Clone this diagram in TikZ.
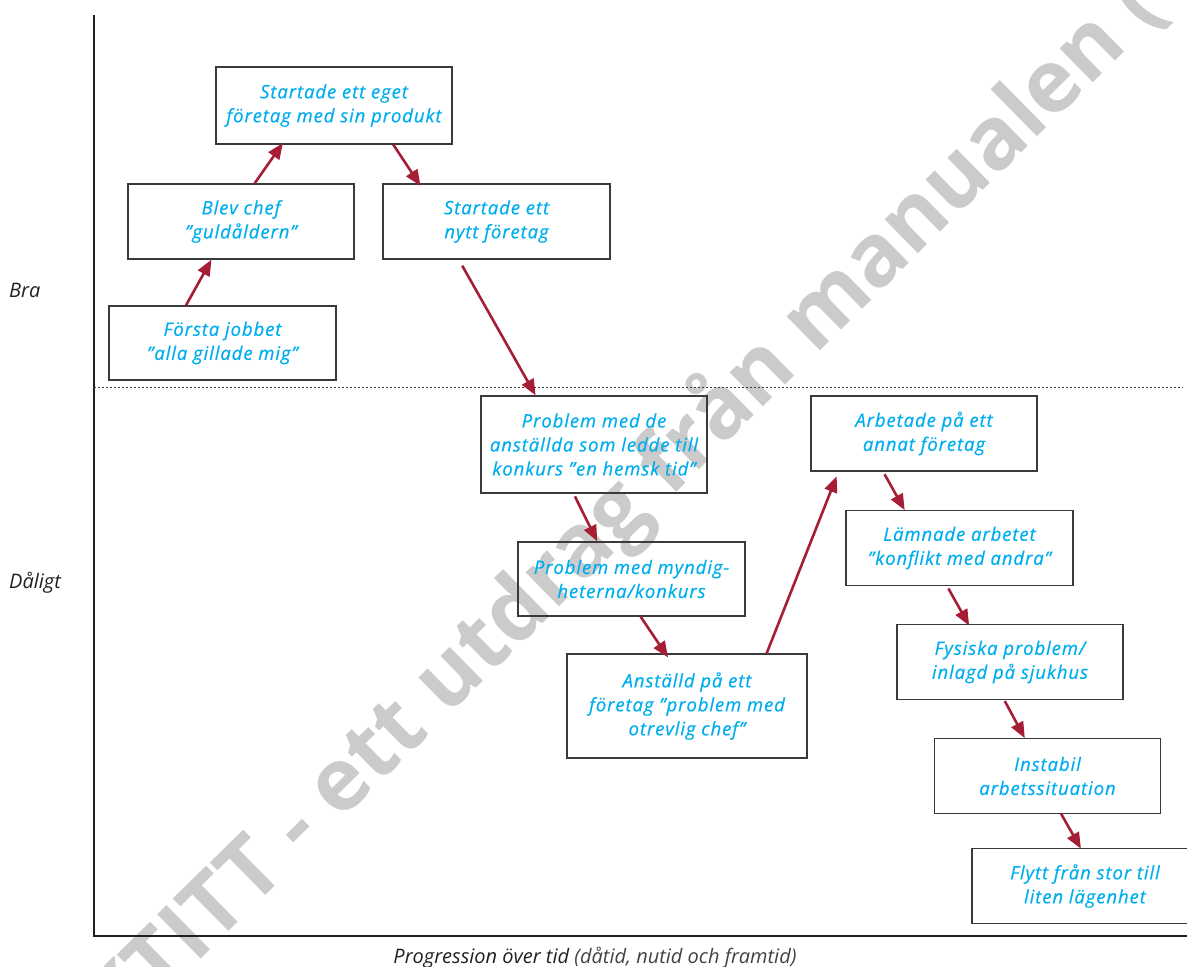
\documentclass[tikz,border=0pt]{standalone}
\usepackage{fontspec}
\setmainfont{Open Sans}
\newfontfamily\handfont[LetterSpace=5,ItalicFeatures={FakeBold=0.5}]{Open Sans}
\usetikzlibrary{arrows.meta,calc}
\definecolor{handblue}{HTML}{00AEEF}
\definecolor{arrowred}{HTML}{A51E36}
\definecolor{framegray}{HTML}{3A3A3A}
\definecolor{axisblack}{HTML}{231F20}
\definecolor{markgray}{HTML}{CBCBCB}

\begin{document}
\begin{tikzpicture}[x=1pt, y=-1pt,
    event/.style={draw=framegray, line width=1.3pt, align=center, inner sep=0pt,
      minimum width=226pt, minimum height=75pt, text=handblue,
      font=\handfont\itshape\fontsize{18.5}{24}\selectfont},
    jump/.style={draw=arrowred, line width=2.6pt, -{Triangle[length=16pt,width=13pt]}},
    axislabel/.style={font=\itshape\fontsize{20}{24}\selectfont, text=axisblack, inner sep=0pt}
  ]
  \useasboundingbox (0,0) rectangle (1187,967);

  % vattenstämpel
  \node[rotate=44.5, text=markgray, font=\bfseries\fontsize{87}{87}\selectfont] (stamp) at (624,507)
    {KTITT - ett utdrag från manualen (};

  % axlar och gränslinje
  \draw[axisblack, line width=2.6pt] (94,15) -- (94,936) -- (1190,936);
  \draw[framegray, line width=0.8pt, dash pattern=on 2pt off 2pt] (94,387.5) -- (1183,387.5);

  \node[axislabel, anchor=west] (bra) at (9,290) {Bra};
  \node[axislabel, anchor=west] (daligt) at (9,583) {Dåligt};
  \node[axislabel] (tid) at (595,958) {Progression över tid {\color{axisblack!85}(dåtid, nutid och framtid)}};

  % händelser
  \node[event, minimum width=227pt, minimum height=74pt] (b1) at (222.5,343) {Första jobbet\\”alla gillade mig”};
  \node[event] (b2) at (241,221.5) {Blev chef\\”guldåldern”};
  \node[event, minimum width=236pt, minimum height=77pt] (b3) at (334,105.5) {Startade ett eget\\företag med sin produkt};
  \node[event, minimum width=227pt] (b4) at (496.5,221.5) {Startade ett\\nytt företag};
  \node[event, minimum height=97pt] (b5) at (594,444.5) {Problem med de\\anställda som ledde till\\konkurs ”en hemsk tid”};
  \node[event, minimum width=227pt, minimum height=74pt] (b6) at (631.5,579) {Problem med myndig-\\heterna/konkurs};
  \node[event, minimum width=240pt, minimum height=104pt] (b7) at (687,706) {Anställd på ett\\företag ”problem med\\otrevlig chef”};
  \node[event] (b8) at (924,433.5) {Arbetade på ett\\annat företag};
  \node[event, minimum width=227pt, minimum height=74.5pt] (b9) at (959.5,548) {Lämnade arbetet\\”konflikt med andra”};
  \node[event] (b10) at (1010,662) {Fysiska problem/\\inlagd på sjukhus};
  \node[event, minimum height=74.5pt] (b11) at (1047.5,776) {Instabil\\arbetssituation};
  \node[event] (b12) at (1085,886) {Flytt från stor till\\liten lägenhet};

  % pilar uppåt
  \foreach \a/\fa/\b/\fb/\sa/\sb in {b1/0.34/b2/0.37/0/0, b2/0.56/b3/0.28/0/-2, b7/0.83/b8/0.124/0/5}{
    \draw[jump, shorten <=\sa pt, shorten >=\sb pt]
      ($(\a.north west)!\fa!(\a.north east)$) -- ($(\b.south west)!\fb!(\b.south east)$);
  }
  % pilar nedåt
  \foreach \a/\fa/\b/\fb/\sa/\sb in {b3/0.75/b4/0.16/0/-3, b4/0.335/b5/0.243/7/0, b5/0.41/b6/0.35/3/0,
      b6/0.54/b7/0.41/0/-5, b8/0.32/b9/0.26/3/0, b9/0.445/b10/0.316/3/-2,
      b10/0.475/b11/0.40/1/0, b11/0.56/b12/0.48/0/-1}{
    \draw[jump, shorten <=\sa pt, shorten >=\sb pt]
      ($(\a.south west)!\fa!(\a.south east)$) -- ($(\b.north west)!\fb!(\b.north east)$);
  }

\end{tikzpicture}
\end{document}
